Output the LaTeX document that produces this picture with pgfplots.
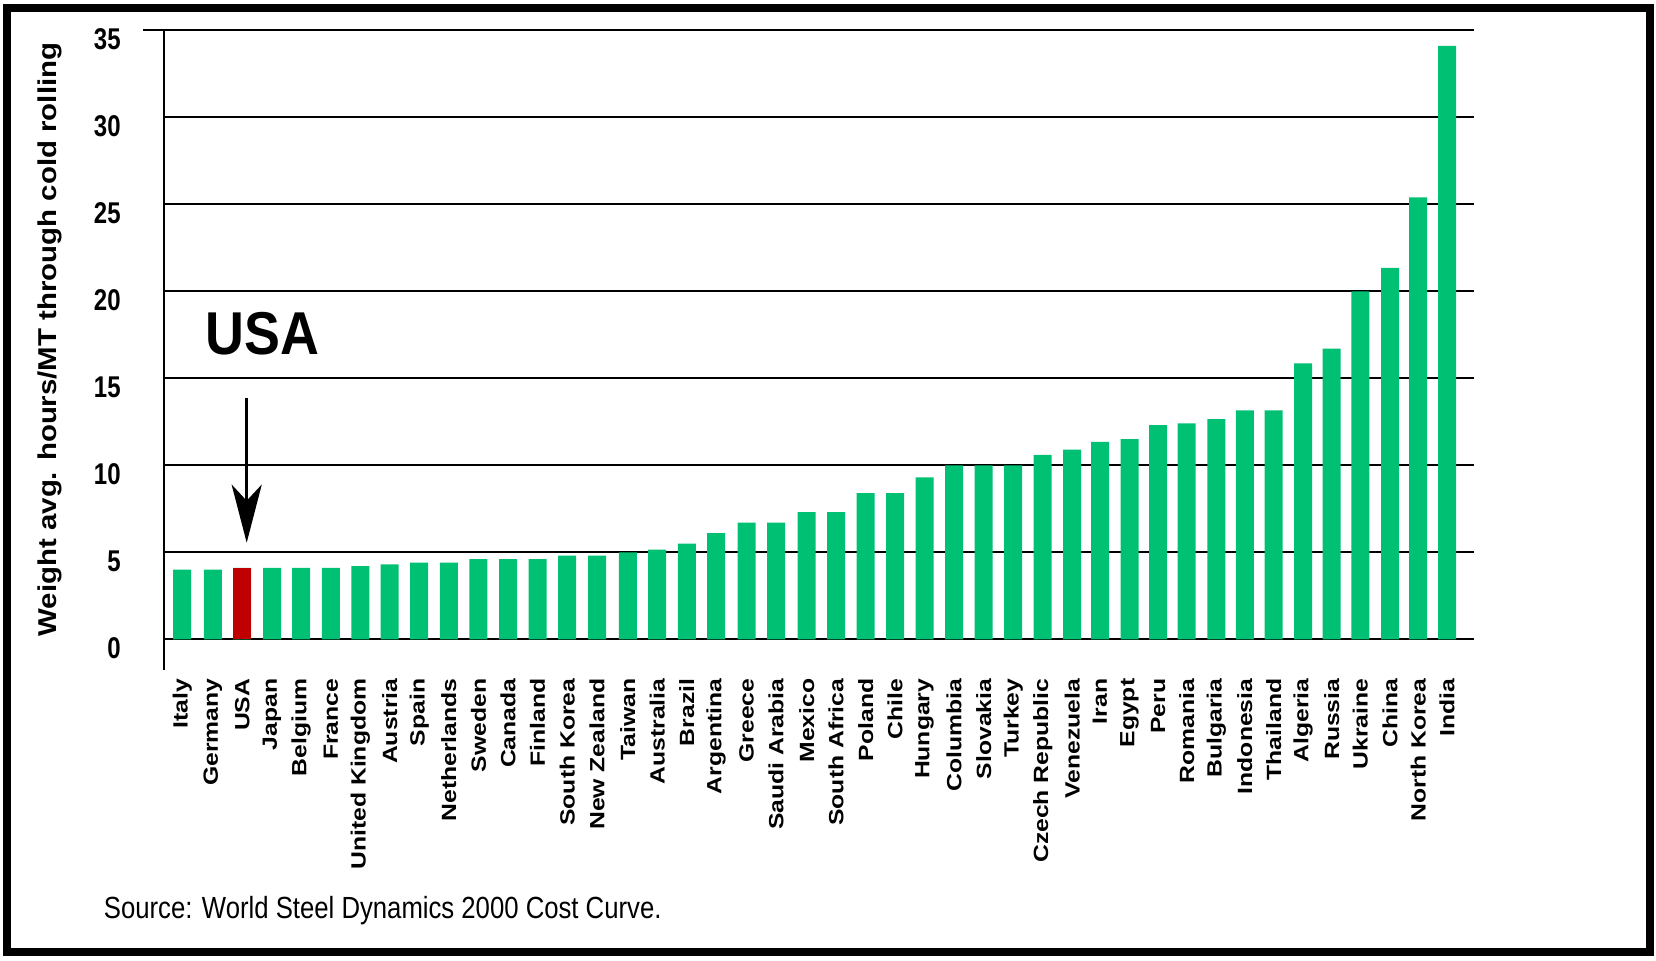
\documentclass[border=0pt]{standalone}
\usepackage{pgfplots}
\usepackage{pgfplotstable}
\pgfplotsset{compat=1.18}
\usetikzlibrary{arrows.meta}
\usepackage{fontspec}
\setmainfont{Liberation Sans}
\newfontfamily\ticklabfont[FakeStretch=0.8]{Liberation Sans}
\newfontfamily\xlabfont[FakeStretch=1.2]{Liberation Sans}
\newfontfamily\ylabfont[FakeStretch=1.14]{Liberation Sans}
\newfontfamily\usafont[FakeStretch=0.89]{Liberation Sans}
\newfontfamily\srcfont[FakeStretch=0.84]{Liberation Sans}
\definecolor{bargreen}{RGB}{0,192,115}
\definecolor{barred}{RGB}{192,0,0}

\pgfplotstableread[col sep=comma]{
x,y,name
182.2,4.0,Italy
212.8,4.0,Germany
242.2,4.1,USA
272.0,4.1,Japan
301.2,4.1,Belgium
330.8,4.1,France
360.3,4.2,United Kingdom
389.7,4.3,Austria
419.2,4.4,Spain
448.8,4.4,Netherlands
478.4,4.6,Sweden
508.0,4.6,Canada
537.6,4.6,Finland
567.2,4.8,South Korea
597.0,4.8,New Zealand
627.8,5.0,Taiwan
657.2,5.15,Australia
686.8,5.5,Brazil
716.2,6.1,Argentina
746.5,6.7,Greece
776.0,6.7,Saudi Arabia
806.7,7.3,Mexico
836.0,7.3,South Africa
865.7,8.4,Poland
895.0,8.4,Chile
924.5,9.3,Hungary
954.0,10.0,Columbia
983.7,10.0,Slovakia
1013.2,10.0,Turkey
1042.7,10.6,Czech Republic
1072.2,10.9,Venezuela
1100.0,11.35,Iran
1129.5,11.5,Egypt
1158.2,12.3,Peru
1186.7,12.4,Romania
1216.3,12.65,Bulgaria
1244.8,13.15,Indonesia
1273.7,13.15,Thailand
1303.0,15.85,Algeria
1331.7,16.7,Russia
1360.3,20.0,Ukraine
1390.0,21.35,China
1418.2,25.4,North Korea
1447.0,34.1,India
}\datatable

\pgfplotstableread[col sep=comma]{
x,y
242.2,4.1
}\usatable

\begin{document}
\begin{tikzpicture}
\path[use as bounding box] (0pt,0pt) rectangle (828pt,480pt);
\draw[line width=4pt] (3.5pt,4pt) rectangle (825pt,476pt);

\begin{axis}[
  at={(82pt,145.15pt)}, anchor=south west,
  x=0.5pt, y=8.7pt,
  xmin=164, xmax=1474, ymin=-1.75, ymax=35,
  axis y line*=left, axis x line*=bottom,
  x axis line style={draw=none},
  y axis line style={line width=0.6pt, black},
  clip=false,
  ytick={0,5,...,35},
  ymajorgrids,
  major grid style={black, line width=0.9pt, shorten <=-10.65pt},
  major tick length=0pt,
  xtick style={draw=none}, ytick style={draw=none},
  /pgf/number format/assume math mode=true,
  yticklabel style={anchor=east, inner sep=0pt, xshift=-21.5pt, yshift=-4.7pt,
     font=\ticklabfont\bfseries\fontsize{15}{15}\selectfont},
  xtick=data,
  xticklabels from table={\datatable}{name},
  xticklabel shift=4.3pt,
  xticklabel style={rotate=90, anchor=east, inner sep=0pt,
     font=\xlabfont\bfseries\fontsize{10.3}{10.3}\selectfont},
]
\addplot[ybar, bar width=18, bar shift=0pt, fill=bargreen, draw=none]
  table[x=x, y=y] {\datatable};
\addplot[ybar, bar width=18, bar shift=0pt, fill=barred, draw=none]
  table[x=x, y=y] {\usatable};
\end{axis}

\node[rotate=90, inner sep=0pt, font=\ylabfont\bfseries\fontsize{12.9}{12.9}\selectfont]
  at (25pt,310.25pt) {Weight avg. hours/MT through cold rolling};
\node[inner sep=0pt, font=\usafont\bfseries\fontsize{30.25}{30.25}\selectfont]
  at (131.25pt,313.3pt) {USA};
\draw[line width=1.7pt, -{Stealth[length=29pt, width=15pt, inset=8pt]}]
  (123.35pt,281pt) -- (123.35pt,208.65pt);
\node[anchor=base west, inner sep=0pt, font=\srcfont\fontsize{15.3}{15.3}\selectfont]
  at (51.75pt,21pt) {Source: World Steel Dynamics 2000 Cost Curve.};
\end{tikzpicture}
\end{document}
